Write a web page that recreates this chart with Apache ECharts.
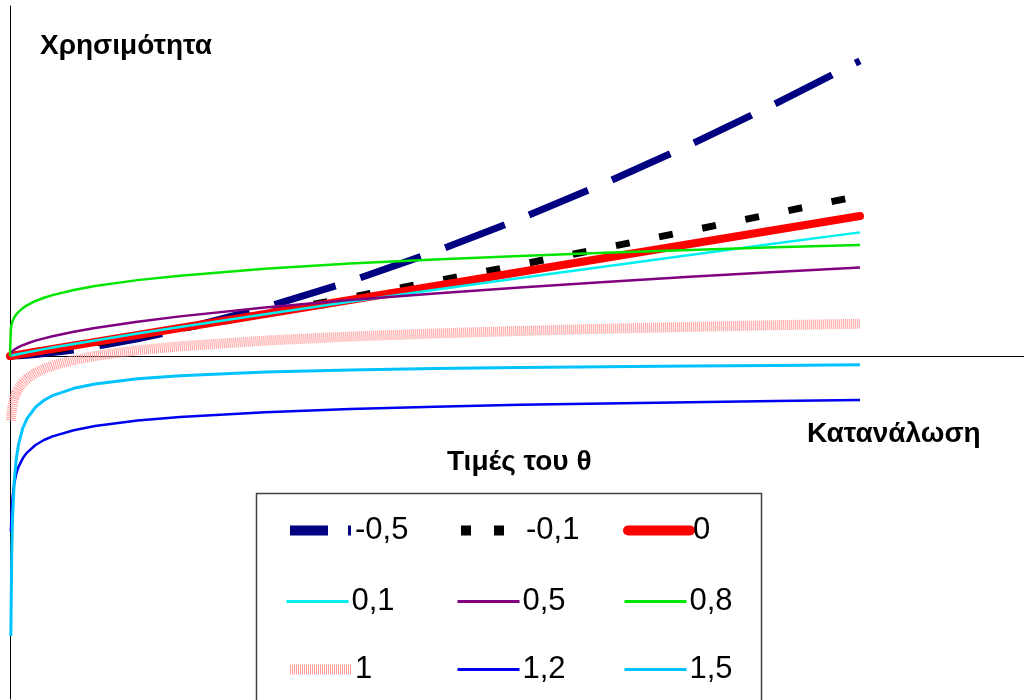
<!DOCTYPE html>
<html><head><meta charset="utf-8">
<script src="https://cdn.jsdelivr.net/npm/echarts@6/dist/echarts.min.js"></script>
<style>html,body{margin:0;padding:0;background:#fff}#c{width:1024px;height:700px}</style>
</head><body><div id="c"></div>
<script>
// Consumption (x) values
const consumption = [0,0.01,0.02,0.03,0.05,0.075,0.1,0.15,0.2,0.3,0.4,0.5,0.75,1,1.5,2,3,4,5,6,7,8,9,10];
// Legend labels (values of theta)
const thetaLabels = ['-0,5','-0,1','0','0,1','0,5','0,8','1','1,2','1,5'];
// Utility values
const uThetaM05 = [0,0,0,0,0.01,0.01,0.02,0.04,0.06,0.11,0.17,0.24,0.43,0.67,1.22,1.89,3.46,5.33,7.45,9.8,12.35,15.08,18,21.08];
const uThetaM01 = [0,0.01,0.01,0.02,0.03,0.05,0.07,0.11,0.15,0.24,0.33,0.42,0.66,0.91,1.42,1.95,3.04,4.18,5.34,6.52,7.73,8.95,10.19,11.44];
const uTheta0   = [0,0.01,0.02,0.03,0.05,0.075,0.1,0.15,0.2,0.3,0.4,0.5,0.75,1,1.5,2,3,4,5,6,7,8,9,10];
const uTheta01  = [0,0.02,0.03,0.05,0.08,0.11,0.14,0.2,0.26,0.38,0.49,0.6,0.86,1.11,1.6,2.07,2.99,3.87,4.73,5.57,6.4,7.22,8.03,8.83];
const uTheta05  = [0,0.2,0.28,0.35,0.45,0.55,0.63,0.77,0.89,1.1,1.26,1.41,1.73,2,2.45,2.83,3.46,4,4.47,4.9,5.29,5.66,6,6.32];
const uTheta08  = [0,1.99,2.29,2.48,2.75,2.98,3.15,3.42,3.62,3.93,4.16,4.35,4.72,5,5.42,5.74,6.23,6.6,6.9,7.15,7.38,7.58,7.76,7.92];
const uTheta1   = [null,-4.61,-3.91,-3.51,-3.0,-2.59,-2.3,-1.9,-1.61,-1.2,-0.92,-0.69,-0.29,0,0.41,0.69,1.1,1.39,1.61,1.79,1.95,2.08,2.2,2.3];
const uTheta12  = [null,-12.56,-10.94,-10.08,-9.1,-8.39,-7.92,-7.31,-6.9,-6.36,-6.0,-5.74,-5.3,-5,-4.61,-4.35,-4.01,-3.79,-3.62,-3.49,-3.39,-3.3,-3.22,-3.15];
const uTheta15  = [null,-20,-14.14,-11.55,-8.94,-7.3,-6.32,-5.16,-4.47,-3.65,-3.16,-2.83,-2.31,-2,-1.63,-1.41,-1.15,-1,-0.89,-0.82,-0.76,-0.71,-0.67,-0.63];

const seriesValues = [uThetaM05,uThetaM01,uTheta0,uTheta01,uTheta05,uTheta08,uTheta1,uTheta12,uTheta15];

const styles = [
  {color:'#000080', width:7, type:[64,26], cap:'butt', legendType:[38,20,3,10], legendWidth:10},
  {color:'#000000', width:7, type:[14,30], cap:'butt', legendType:[10,23], legendWidth:10},
  {color:'#ff0000', width:8, type:'solid', cap:'round', legendType:'solid', legendWidth:10},
  {color:'#00f0f0', width:2.5, type:'solid', cap:'butt', legendType:'solid', legendWidth:3},
  {color:'#800080', width:2.5, type:'solid', cap:'butt', legendType:'solid', legendWidth:3},
  {color:'#00e600', width:2.5, type:'solid', cap:'butt', legendType:'solid', legendWidth:3},
  {color:'#ff9c9c', width:10, type:[1,1], cap:'butt', legendType:[1,1], legendWidth:10},
  {color:'#0000f0', width:2.5, type:'solid', cap:'butt', legendType:'solid', legendWidth:3},
  {color:'#00c3ff', width:3, type:'solid', cap:'butt', legendType:'solid', legendWidth:3}
];

const colX = [285, 456, 623];
const rowY = [533, 604, 672];

const series = seriesValues.map((vals, i) => ({
  name: thetaLabels[i],
  type: 'line',
  data: consumption.map((c, j) => [c, vals[j]]),
  showSymbol: false,
  symbol: 'none',
  connectNulls: false,
  lineStyle: {color: styles[i].color, width: styles[i].width, type: styles[i].type, cap: styles[i].cap, join: 'round'},
  itemStyle: {color: styles[i].color},
  z: 2 + i
}));

const legends = thetaLabels.map((name, i) => ({
  data: [name],
  left: colX[i % 3],
  top: rowY[Math.floor(i / 3)] - 18,
  padding: 0,
  itemWidth: 62,
  itemHeight: 14,
  selectedMode: false,
  itemStyle: {opacity: 0, borderWidth: 0},
  lineStyle: {width: styles[i].legendWidth, type: styles[i].legendType, cap: styles[i].cap},
  textStyle: {fontSize: 31, color: '#000', fontFamily: '"Liberation Sans Narrow", "Liberation Sans", Arial, sans-serif', padding: [0,0,0,-2]}
}));

const chart = echarts.init(document.getElementById('c'), null, {renderer: 'canvas'});
chart.setOption({
  animation: false,
  backgroundColor: '#ffffff',
  grid: {left: 10, right: 0, top: 6, bottom: 1, containLabel: false},
  xAxis: {
    type: 'value', min: 0, max: 11.93,
    axisLine: {show: true, onZero: true, lineStyle: {color: '#000', width: 1}},
    axisTick: {show: false}, axisLabel: {show: false}, splitLine: {show: false}
  },
  yAxis: {
    type: 'value', min: -24.5, max: 25,
    axisLine: {show: true, lineStyle: {color: '#000', width: 1}},
    axisTick: {show: false}, axisLabel: {show: false}, splitLine: {show: false}
  },
  legend: legends,
  series: series,
  graphic: [
    {type: 'rect', shape: {x: 256.5, y: 493.5, width: 505, height: 230}, style: {fill: 'rgba(0,0,0,0)', stroke: '#404040', lineWidth: 1.5}, z: 1},
    {type: 'text', left: 40, top: 32, style: {text: 'Χρησιμότητα', font: 'bold 28px "Liberation Sans", Arial, sans-serif', fill: '#000'}},
    {type: 'text', left: 807, top: 420, style: {text: 'Κατανάλωση', font: 'bold 28px "Liberation Sans", Arial, sans-serif', fill: '#000'}},
    {type: 'text', left: 447, top: 448, style: {text: 'Τιμές του θ', font: 'bold 28px "Liberation Sans", Arial, sans-serif', fill: '#000'}}
  ]
});
</script>
</body></html>
